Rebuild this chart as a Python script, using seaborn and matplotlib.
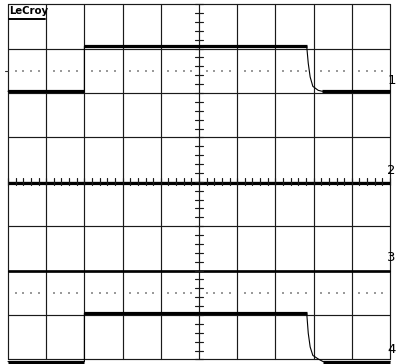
import numpy as np
import pandas as pd
import matplotlib
matplotlib.use("Agg")
import matplotlib.pyplot as plt
import seaborn as sns

# Screen coordinates are in divisions: 10 across, 8 down, 0 on the centre line
n_hdiv = 10
n_vdiv = 8

# Channel 1: step up at 2 div, RC-like fall after ~7.8 div
t1 = [0.0, 2.0, 2.0, 7.82, 7.86, 7.91, 7.98, 8.12, 8.22, 10.0]
ch1 = [2.04, 2.04, 3.05, 3.05, 2.67, 2.36, 2.15, 2.06, 2.04, 2.04]
# Channel 2: flat on the centre line
t2 = [0.0, 10.0]
ch2 = [-0.02, -0.02]
# Channel 3: flat
t3 = [0.0, 10.0]
ch3 = [-2.01, -2.01]
# Channel 4: same pulse shape, low level just below the screen bottom
t4 = [0.0, 2.0, 2.0, 7.82, 7.86, 7.91, 7.98, 8.12, 8.25, 10.0]
ch4 = [-4.05, -4.05, -2.96, -2.96, -3.41, -3.72, -3.91, -3.99, -4.05, -4.05]

channel_names = ["1", "2", "3", "4"]
ref_levels = [2.5, -2.5]

frames = []
for name, t, v in zip(channel_names, [t1, t2, t3, t4], [ch1, ch2, ch3, ch4]):
    frames.append(pd.DataFrame({"t": t, "v": v, "ch": name}))
df = pd.concat(frames, ignore_index=True)

sns.set_style("white")
fig = plt.figure(figsize=(3.96, 3.64), dpi=100)
ax = fig.add_axes([0, 0, 1, 1])

px_x = 38.2  # pixels per horizontal division
px_y = 44.4  # pixels per vertical division
x0, y_c = 8.0, 181.8
ax.set_xlim(-x0 / px_x, (396 - x0) / px_x)
ax.set_ylim((y_c - 364) / px_y, y_c / px_y)
ax.set_axis_off()

grid_kw = dict(color="#1a1a1a", lw=0.85, zorder=1)
for i in range(n_hdiv + 1):
    ax.plot([i, i], [-n_vdiv / 2, n_vdiv / 2], **grid_kw)
for j in range(n_vdiv + 1):
    y = j - n_vdiv / 2
    ax.plot([0, n_hdiv], [y, y], **grid_kw)

# minor ticks along the centre cross
for k in range(n_hdiv * 5 + 1):
    x = k / 5
    ax.plot([x, x], [-3.5 / px_y, 3.5 / px_y], color="#1a1a1a", lw=0.85, zorder=4)
for k in range(n_vdiv * 5 + 1):
    y = k / 5 - n_vdiv / 2
    ax.plot([5 - 4 / px_x, 5 + 4 / px_x], [y, y], color="#1a1a1a", lw=0.85, zorder=4)

# dotted reference levels
dot_x = np.array([k / 5 for k in range(n_hdiv * 5 + 1) if k % 5 != 0])
for lvl in ref_levels:
    ax.scatter(dot_x, np.full_like(dot_x, lvl), marker="s", s=1.2,
               color="#9a9a9a", linewidths=0, zorder=2)
ax.plot([-3 / px_x, 0], [ref_levels[0], ref_levels[0]], color="#333333", lw=0.8,
        clip_on=False, zorder=3)

# traces: fast edges come out thin, settled levels thick
widths = {"1": 2.3, "2": 2.3, "3": 1.9, "4": 2.3}
for name in channel_names:
    sub = df[df["ch"] == name].reset_index(drop=True)
    sns.lineplot(data=sub, x="t", y="v", ax=ax, sort=False, estimator=None,
                 color="black", lw=0.8, legend=False, zorder=3)
    flat = sub["v"].values[:-1] == sub["v"].values[1:]
    for i in np.where(flat)[0]:
        seg = sub.iloc[i:i + 2]
        sns.lineplot(data=seg, x="t", y="v", ax=ax, sort=False, estimator=None,
                     color="black", lw=widths[name], legend=False, zorder=3,
                     solid_capstyle="butt")

# channel markers on the right edge
base = [ch1[0], ch2[0], ch3[0], ch4[0]]
offs = [0.1, 0.12, 0.16, 0.12]
x_right = (396 - x0 - 0.3) / px_x
for name, b, o in zip(channel_names, base, offs):
    ax.text(x_right, b + o, name, ha="right", va="bottom",
            fontsize=9.5, family="DejaVu Sans", color="black", zorder=5)

# brand label in the top-left cell
ax.text(1.5 / px_x, (y_c - 5.5) / px_y, "LeCroy", ha="left", va="top",
        fontsize=7.3, fontweight="bold", family="DejaVu Sans", color="black", zorder=5)
ax.plot([1 / px_x, 37 / px_x], [(y_c - 18.5) / px_y] * 2, color="black", lw=1.4, zorder=5)

fig.savefig("out.png", dpi=100)
